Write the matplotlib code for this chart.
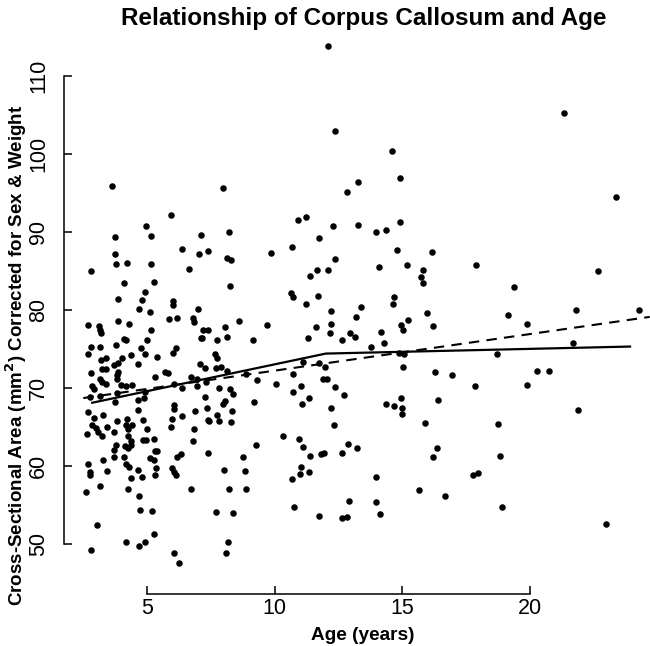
import matplotlib.pyplot as plt

# age (years) and corrected corpus callosum area
age = [3.73, 5.15, 6.37, 3.73, 3.76, 4.20, 5.15, 2.79, 4.10, 5.25,
       4.91, 3.84, 4.79, 6.01, 6.01, 4.69, 5.12, 5.85, 6.18, 2.69,
       3.11, 3.15, 3.17, 3.86, 4.29, 5.16, 4.10, 4.18, 4.99, 2.78,
       3.15, 3.78, 4.75, 2.66, 6.11, 6.02, 4.90, 4.36, 3.18, 3.37,
       4.00, 5.39, 4.65, 3.86, 3.71, 2.79, 3.21, 3.37, 3.84, 5.69,
       5.80, 5.30, 3.13, 3.24, 3.81, 3.80, 2.84, 2.92, 3.38, 3.97,
       4.15, 4.39, 6.04, 6.37, 3.80, 3.16, 2.75, 4.91,
       3.73, 4.65, 4.88, 6.04, 6.06, 6.37, 2.66, 2.90, 3.27, 3.80,
       4.22, 4.65, 4.83, 5.96, 2.84, 2.98, 3.41, 4.18, 4.39, 4.99,
       5.93, 2.64, 3.08, 3.21, 3.71, 4.23, 4.23, 4.36, 4.83, 4.96,
       5.27, 3.78, 3.71, 4.13, 4.25, 4.36, 5.30, 5.38, 3.68, 4.10,
       5.12, 5.25, 6.16, 6.32, 3.25, 2.69, 4.15, 4.28, 4.62, 5.35,
       5.96, 6.04, 6.14, 2.76, 2.76, 3.41, 4.80, 5.30, 4.36, 3.15,
       2.61, 4.25, 4.67, 4.73, 5.20, 3.04, 5.26, 4.18, 4.91, 4.67,
       2.79, 6.05, 6.24,
       7.71, 8.07, 8.18, 7.38, 6.73, 8.02, 8.22, 6.80,
       7.09, 8.19, 7.02, 7.38, 8.14, 8.27, 9.86, 6.65, 8.26, 7.00,
       6.80, 6.83, 8.61, 9.71, 7.17, 7.38, 8.06, 7.09, 7.15, 7.72,
       8.14, 9.16, 7.67, 7.75, 7.07, 7.25, 7.69, 7.90, 8.14, 6.70,
       6.94, 6.94, 7.30, 9.29, 10.05, 7.80, 8.24, 8.35, 7.25,
       8.04, 7.98, 9.18, 6.88, 7.33, 7.72, 7.82, 7.38, 7.43, 8.32,
       8.27, 6.83, 10.33, 9.26, 8.74, 8.82, 8.87, 8.35,
       3.63, 7.96, 5.94, 4.96,
       12.10, 12.35, 14.61, 14.90, 13.25, 12.82, 10.90, 11.21, 12.30, 13.28,
       14.91, 13.98, 14.37, 11.72, 10.66, 14.80, 12.35, 11.67, 12.10, 11.39,
       14.10, 15.18, 15.82, 15.72, 15.80, 10.65, 10.70, 11.68, 11.22, 14.69,
       14.65, 12.20, 13.38, 13.17, 15.96, 11.62, 12.22, 12.15, 12.95, 14.15,
       14.95, 15.04, 15.21, 11.31, 12.62, 13.15,
       13.77, 14.28, 14.86, 15.07, 15.04, 11.09, 11.74, 11.98, 11.88, 12.04,
       10.73, 8.87, 11.04, 10.73, 12.37, 12.71, 11.35, 11.07, 14.35, 14.69,
       14.94, 14.98, 14.99, 12.22, 12.33, 15.90, 10.94, 11.09, 12.86, 13.22,
       11.38, 11.81, 11.92, 12.65, 11.02, 10.99, 11.35, 10.67, 13.97, 15.66,
       12.92, 13.97, 10.75, 14.11, 11.75, 12.62, 12.83,
       21.34, 23.37, 16.18, 17.89, 22.68, 19.38, 19.16, 19.88, 21.80, 24.27,
       16.19,
       21.68, 18.70, 16.29, 16.95, 17.84, 20.27, 20.75, 19.89, 16.39, 21.88,
       18.74, 16.35, 16.19, 18.83, 17.78, 17.96, 16.69, 18.91, 22.99]

area = [89.3, 89.5, 87.8, 87.2, 85.9, 86.0, 85.9, 85.0, 83.5, 83.6,
        82.3, 81.4, 81.3, 81.2, 80.6, 80.1, 79.7, 78.8, 79.0, 78.1,
        77.9, 77.4, 77.0, 78.6, 78.2, 77.4, 76.3, 76.1, 76.1, 75.3,
        75.3, 75.5, 75.1, 74.4, 75.1, 74.5, 74.3, 74.2, 73.6, 73.8,
        73.8, 73.9, 73.1, 73.2, 73.0, 71.9, 72.4, 72.4, 72.0, 72.1,
        71.9, 71.4, 71.2, 70.8, 71.6, 71.2, 70.3, 69.9, 70.5, 70.4,
        70.3, 70.4, 70.5, 70.0, 69.4, 69.0, 68.8, 69.5,
        68.2, 68.5, 68.7, 67.8, 67.3, 66.4, 66.9, 66.2, 66.5, 65.8,
        66.0, 67.2, 65.9, 66.0, 65.2, 64.8, 65.0, 65.2, 65.3, 64.7,
        65.0, 64.1, 64.3, 63.9, 64.4, 64.7, 63.8, 63.2, 63.3, 63.3,
        63.4, 62.7, 62.1, 62.5, 62.3, 62.7, 61.9, 61.9, 61.2, 61.1,
        61.0, 60.7, 61.2, 61.5, 60.7, 60.3, 60.2, 59.9, 59.5, 59.8,
        59.8, 59.2, 58.8, 59.2, 58.8, 59.4, 58.6, 58.8, 58.4, 57.4,
        56.7, 57.0, 56.2, 54.3, 54.2, 52.4, 51.3, 50.3, 50.2, 49.7,
        49.2, 48.8, 47.5,
        54.1, 48.8, 50.3, 61.6, 57.1, 59.5, 57.1, 63.2,
        89.6, 90.0, 87.1, 87.6, 86.6, 86.4, 87.3, 85.3, 83.0, 80.1,
        78.9, 78.5, 78.6, 78.0, 77.4, 77.4, 77.8, 76.4, 76.4, 76.1,
        76.5, 76.2, 74.4, 73.8, 73.1, 72.6, 72.6, 72.7, 72.2, 71.4,
        71.2, 70.3, 70.8, 71.0, 70.5, 70.0, 69.8, 69.2, 68.8,
        68.3, 67.9, 68.2, 67.1, 67.4, 66.5, 65.8, 65.9, 65.7, 67.0,
        65.6, 64.7, 63.8, 62.7, 61.2, 59.4, 57.1, 54.0,
        95.9, 95.6, 92.2, 90.7,
        113.8, 102.9, 100.3, 96.9, 96.4, 95.1, 91.5, 91.9, 90.7, 90.9,
        91.2, 90.0, 90.2, 89.2, 88.1, 87.7, 86.5, 85.1, 85.1, 84.4,
        85.5, 85.8, 85.1, 84.2, 83.4, 82.1, 81.7, 81.8, 80.7, 81.6,
        80.8, 79.9, 80.4, 79.1, 79.6, 77.8, 78.2, 77.1, 77.1, 77.2,
        78.0, 77.4, 78.7, 76.4, 76.2, 76.5,
        75.2, 75.7, 74.5, 74.3, 72.7, 73.3, 73.2, 72.7, 71.2, 71.1,
        71.8, 71.8, 70.3, 69.5, 70.1, 69.1, 68.7, 68.0, 68.0, 67.7,
        68.7, 67.4, 66.7, 67.4, 65.3, 65.5, 63.4, 62.4, 62.8, 62.3,
        61.3, 61.5, 61.6, 61.6, 59.9, 59.0, 59.2, 58.3, 58.6, 56.9,
        55.5, 55.4, 54.7, 53.8, 53.6, 53.3, 53.4,
        105.2, 94.5, 87.4, 85.7, 85.0, 82.9, 79.4, 78.2, 80.0, 80.0,
        77.9,
        75.8, 74.4, 72.0, 71.7, 70.2, 72.2, 72.2, 70.4, 68.5, 67.2,
        65.4, 62.3, 61.2, 61.3, 58.8, 59.1, 56.2, 54.7, 52.6]

# piecewise fit (solid) and linear fit (dashed)
knot_age = [2.84, 12.0, 23.93]
knot_area = [68.1, 74.4, 75.3]
lin_age = [2.49, 24.7]
lin_area = [68.7, 79.1]

xticks = [5, 10, 15, 20]
yticks = [50, 60, 70, 80, 90, 100, 110]

plt.rcParams['font.family'] = ['Liberation Sans', 'DejaVu Sans']

fig = plt.figure(figsize=(6.5, 6.46), dpi=100)
ax = fig.add_axes([0.0989, 0.0805, 0.901, 0.858])

ax.scatter(age, area, s=22, c='black', linewidths=0, zorder=3, clip_on=False)
ax.plot(knot_age, knot_area, color='black', lw=1.6)
ax.plot(lin_age, lin_area, color='black', lw=1.5, dashes=(5, 3.5))

ax.set_xlim(1.745, 24.71)
ax.set_ylim(43.59, 114.62)

for s in ['top', 'right']:
    ax.spines[s].set_visible(False)
ax.spines['left'].set_bounds(50, 110)
ax.spines['bottom'].set_bounds(5, 20)
for s in ['left', 'bottom']:
    ax.spines[s].set_linewidth(1.1)

ax.set_xticks(xticks)
ax.set_yticks(yticks)
ax.set_yticklabels([str(v) for v in yticks], rotation=90, va='center')
ax.tick_params(direction='in', length=5.8, width=1.1, labelsize=15.5)
ax.tick_params(axis='x', pad=3)
ax.tick_params(axis='y', pad=11)

fig.text(364 / 650, 1 - 18 / 646, 'Relationship of Corpus Callosum and Age',
         ha='center', va='center', fontsize=17.5, fontweight='bold')
fig.text(16 / 650, 1 - 355 / 646,
         'Cross-Sectional Area (mm$^{\\mathbf{2}}$) Corrected for Sex & Weight',
         ha='center', va='center', rotation=90, fontsize=13.5, fontweight='bold')
fig.text(363 / 650, 1 - 636 / 646, 'Age (years)',
         ha='center', va='center', fontsize=13.7, fontweight='bold')

fig.savefig('out.png', dpi=100)
